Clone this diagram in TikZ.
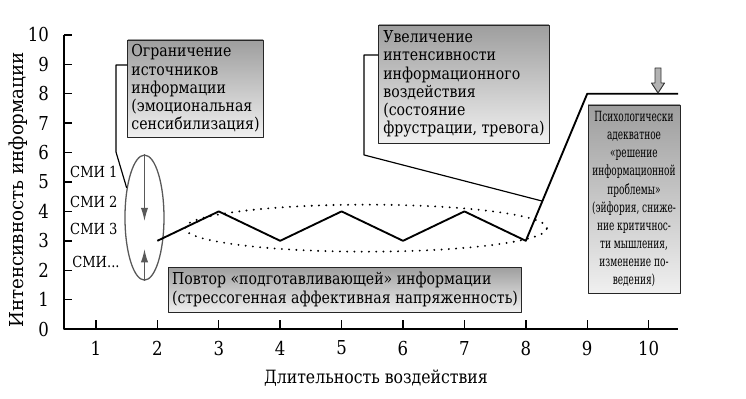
\documentclass[tikz,border=0pt]{standalone}
\usepackage{fontspec}
\setmainfont[FakeStretch=0.86]{DejaVu Serif}
\newfontfamily\narrowserif[FakeStretch=0.64]{DejaVu Serif}
\newfontfamily\wideserif[FakeStretch=0.95]{DejaVu Serif}
\usetikzlibrary{arrows.meta,shapes.geometric,calc}

\tikzset{
  infobox/.style={draw=black!85, line width=0.8pt, top color=black!38, bottom color=black!6,
    inner xsep=3pt, inner ysep=2pt, align=left,
    font=\fontsize{14pt}{15.6pt}\selectfont},
  axislabel/.style={font=\fontsize{16.4pt}{20pt}\selectfont},
  smilabel/.style={anchor=west, inner sep=0pt, font=\fontsize{13pt}{16pt}\selectfont},
  curve/.style={line width=1.6pt},
  leader/.style={line width=1pt},
}

\begin{document}
\begin{tikzpicture}[x=1.842cm, y=0.882cm, line join=round]
  \useasboundingbox (-0.563,-2.347) rectangle (11.586,11.19);
  % axes
  \draw[line width=1.8pt] (0.48,10) -- (0.48,0) -- (10.48,0);
  \foreach \k in {1,...,10} {
    \draw[line width=1.2pt] (0.48,\k) -- ++(0.13,0);
    \draw[line width=1.2pt] (\k,0) -- ++(0,0.3);
    \node[axislabel] (xt\k) at (\k,-0.65) {\k};
  }
  \foreach \k in {0,...,10}
    \node[axislabel, anchor=east] (yt\k) at (0.30,\k) {\k};
  \node[font=\fontsize{15.6pt}{20pt}\selectfont] (xtitle) at (5.56,-1.67) {Длительность воздействия};
  \node[rotate=90, font=\wideserif\fontsize{16.4pt}{20pt}\selectfont] (ytitle) at (-0.27,4.73)
    {Интенсивность информации};

  % sources
  \node[smilabel] (smi1) at (0.577,5.34) {СМИ 1};
  \node[smilabel] (smi2) at (0.577,4.32) {СМИ 2};
  \node[smilabel] (smi3) at (0.577,3.40) {СМИ 3};
  \node[smilabel] (smi4) at (0.61,2.28) {СМИ...};
  \node[ellipse, draw=black!65, line width=1.1pt, inner sep=0pt,
    minimum width=1.17cm, minimum height=3.75cm] (smi) at (1.79,3.79) {};
  \draw[black!65, line width=1.1pt, -{Latex[length=4mm,width=2.2mm]}] (smi.north) -- (smi.north |- 0,3.67);
  \draw[black!65, line width=1.1pt, -{Latex[length=4mm,width=2.2mm]}] (smi.south) -- (smi.south |- 0,2.72);

  % intensity curve
  \draw[curve] (2,3) coordinate (p2) -- (3,4) coordinate (p3) -- (4,3) coordinate (p4)
    -- (5,4) coordinate (p5) -- (6,3) coordinate (p6) -- (7,4) coordinate (p7)
    -- (8,3) coordinate (p8) -- (9,8) coordinate (p9) -- (10.48,8) coordinate (pend);
  \node[ellipse, draw, line width=1.8pt, dash pattern=on 0pt off 6.2pt, line cap=round,
    minimum width=10.86cm, minimum height=1.41cm] (rep) at (5.397,3.43) {};
  \coordinate (hit) at ($(p8)!0.27!(p9)$);

  % boxes
  \node[infobox, minimum width=4.05cm, minimum height=2.91cm] (limit) at (2.62,8.18)
    {Ограничение\\источников\\информации\\(эмоциональная\\сенсибилизация)};
  \node[infobox, minimum width=10.38cm, minimum height=1.35cm] (repeat) at (5.055,1.343)
    {Повтор «подготавливающей» информации\\(стрессогенная аффективная напряженность)};
  \node[infobox, minimum width=5.1cm, minimum height=3.54cm] (raise) at (6.993,8.333)
    {Увеличение\\интенсивности\\информационного\\воздействия\\(состояние\\фрустрации, тревога)};
  \node[infobox, align=center, inner xsep=1pt, minimum width=2.76cm, minimum height=5.64cm,
    font=\narrowserif\fontsize{12pt}{15.4pt}\selectfont] (solve) at (9.762,4.422)
    {Психологически\\адекватное\\«решение\\информационной\\проблемы»\\(эйфория, сниже-\\ние критичнос-\\ти мышления,\\изменение по-\\ведения)};

  % leaders
  \draw[leader] (limit.west |- 0,8.98) -- (1.326,8.98) -- (1.326,6.02) -- (smi.121);
  \draw[leader] (raise.west |- 0,9.32) -- (5.365,9.32) -- (5.365,5.92) -- (hit);

  % block arrow
  \draw[fill=black!30, draw=black!80, line width=0.8pt]
    (10.104,8.878) -- (10.202,8.878) -- (10.202,8.367) -- (10.259,8.367)
    -- (10.153,8.027) -- (10.047,8.367) -- (10.104,8.367) -- cycle;
\end{tikzpicture}
\end{document}
